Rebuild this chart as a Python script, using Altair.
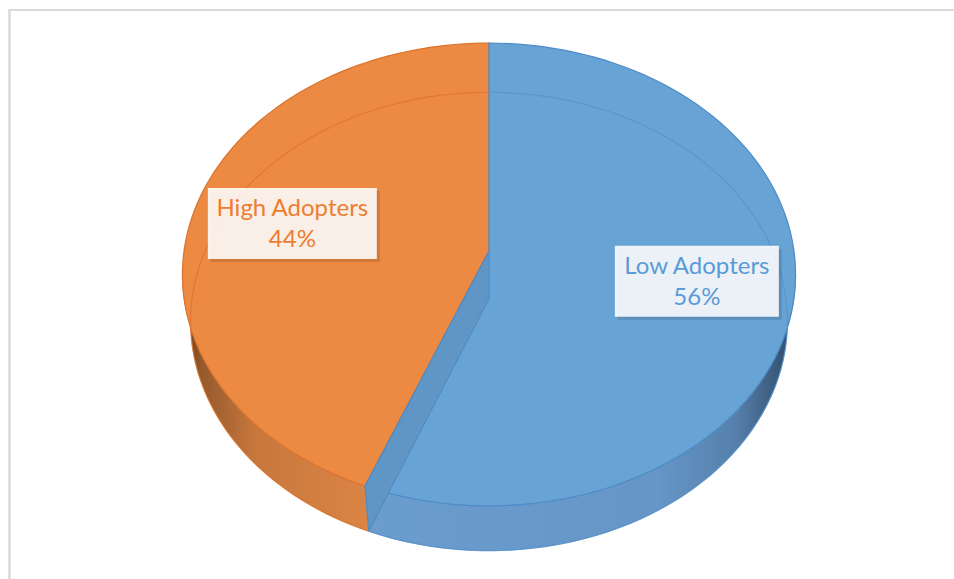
import altair as alt
import pandas as pd

# ---- data ----
categories = ["Low Adopters", "High Adopters"]
values = [56, 44]

# ---- styles ----
slice_fill = {"Low Adopters": "#68A3D5", "High Adopters": "#EC8942"}
slice_edge = {"Low Adopters": "#4D8BC7", "High Adopters": "#DA742F"}
ring_color = {"Low Adopters": "#5590C8", "High Adopters": "#D9732E"}
text_color = {"Low Adopters": "#5B9BD5", "High Adopters": "#ED7D31"}
side_grad = {
    "Low Adopters": [(0, "#6A9CCD"), (0.68, "#6596C7"), (0.86, "#5680AB"), (1, "#2E4966")],
    "High Adopters": [(0, "#5E3A1E"), (0.1, "#94592C"), (0.4, "#C8783D"), (1, "#DB8444")],
}

W, H = 954, 579
N = 90
# projected geometry of the top and bottom faces (perspective ellipse)
TOP = dict(cx=489, cy=251, r=305, h=229, p=0.1015)
BOT = dict(cx=489, cy=299, r=297, h=227, p=0.098)
LABEL_R = 0.675


def px(g, u="datum.u", v="datum.v"):
    return f"({g['cx']} + {g['r']}*({u})/(1 + {g['p']}*({v})))"


def py(g, u="datum.u", v="datum.v"):
    return f"({g['cy']} - {g['h']}*({v})/(1 + {g['p']}*({v})))"


df = pd.DataFrame({"category": categories, "value": values,
                   "idx": list(range(len(categories)))})

xs = alt.Scale(domain=[0, W], range=[0, W], nice=False, zero=False)
ys = alt.Scale(domain=[0, H], range=[0, H], nice=False, zero=False)


def base():
    return (
        alt.Chart(df)
        .transform_joinaggregate(total="sum(value)")
        .transform_window(cum="sum(value)", sort=[alt.SortField("idx", order="ascending")],
                          frame=[None, 0])
        .transform_calculate(a0="2*PI*(datum.cum - datum.value)/datum.total")
        .transform_calculate(a1="2*PI*datum.cum/datum.total")
    )


def enc(chart, xf="X", yf="Y"):
    return chart.encode(
        x=alt.X(f"{xf}:Q", scale=xs, axis=None),
        y=alt.Y(f"{yf}:Q", scale=ys, axis=None),
        order=alt.Order("s:Q"),
    )


layers = []

# border lines (top and left only)
blank = alt.Data(values=[{}])
layers.append(alt.Chart(blank).mark_rule(color="#D9D9D9", strokeWidth=2).encode(
    x=alt.value(8), x2=alt.value(W), y=alt.value(10)))
layers.append(alt.Chart(blank).mark_rule(color="#D9D9D9", strokeWidth=2.5).encode(
    x=alt.value(9.5), y=alt.value(9), y2=alt.value(H)))

VR = f"(PI/2 + asin({TOP['p']}))"
VL = f"(3*PI/2 - asin({TOP['p']}))"

# side walls
for cat in categories:
    grad = alt.Gradient(gradient="linear",
                        stops=[alt.GradientStop(offset=o, color=c) for o, c in side_grad[cat]],
                        x1=0, x2=1, y1=0, y2=0)
    side = (
        base()
        .transform_filter(alt.datum.category == cat)
        .transform_calculate(b0=f"max(datum.a0, {VR})")
        .transform_calculate(b1=f"min(datum.a1, {VL})")
        .transform_filter("datum.b1 > datum.b0")
        .transform_calculate(s=f"sequence(0, {2 * N + 2})")
        .transform_flatten(["s"])
        .transform_calculate(top=f"datum.s <= {N} ? 1 : 0")
        .transform_calculate(
            ang=f"datum.top ? datum.b0 + (datum.b1 - datum.b0)*datum.s/{N} : "
                f"datum.b1 - (datum.b1 - datum.b0)*(datum.s - {N + 1})/{N}")
        .transform_calculate(u="sin(datum.ang)")
        .transform_calculate(v="cos(datum.ang)")
        .transform_calculate(X=f"datum.top ? {px(TOP)} : {px(BOT)}")
        .transform_calculate(Y=f"datum.top ? {py(TOP)} : {py(BOT)}")
        .mark_line(fill=grad, stroke=slice_edge[cat], strokeWidth=1, strokeOpacity=0.6)
    )
    layers.append(enc(side))

# top faces
for cat in reversed(categories):
    top = (
        base()
        .transform_filter(alt.datum.category == cat)
        .transform_calculate(s=f"sequence(0, {N + 3})")
        .transform_flatten(["s"])
        .transform_calculate(rr=f"(datum.s == 0 || datum.s == {N + 2}) ? 0 : 1")
        .transform_calculate(ang=f"datum.a0 + (datum.a1 - datum.a0)*clamp(datum.s - 1, 0, {N})/{N}")
        .transform_calculate(u="datum.rr*sin(datum.ang)")
        .transform_calculate(v="datum.rr*cos(datum.ang)")
        .transform_calculate(X=px(TOP))
        .transform_calculate(Y=py(TOP))
        .mark_line(fill=slice_fill[cat], stroke=slice_edge[cat], strokeWidth=1.2)
    )
    layers.append(enc(top))

# visible cut face at a front boundary
band = (
    base()
    .transform_filter("cos(datum.a1) < 0 && datum.a1 < 2*PI - 0.001")
    .transform_calculate(s="sequence(0, 5)")
    .transform_flatten(["s"])
    .transform_calculate(rr="(datum.s == 1 || datum.s == 2) ? 1 : 0")
    .transform_calculate(top="(datum.s <= 1 || datum.s == 4) ? 1 : 0")
    .transform_calculate(u="datum.rr*sin(datum.a1)")
    .transform_calculate(v="datum.rr*cos(datum.a1)")
    .transform_calculate(X=f"datum.top ? {px(TOP)} : {px(BOT)}")
    .transform_calculate(Y=f"datum.top ? {py(TOP)} : {py(BOT)}")
    .mark_line(fill="#6096C6", stroke="#4D88C2", strokeWidth=1)
)
layers.append(enc(band))

# bottom face outline seen through the translucent top
for cat in categories:
    ring = (
        base()
        .transform_filter(alt.datum.category == cat)
        .transform_calculate(s=f"sequence(0, {N + 1})")
        .transform_flatten(["s"])
        .transform_calculate(ang=f"datum.a0 + (datum.a1 - datum.a0)*datum.s/{N}")
        .transform_calculate(u="sin(datum.ang)")
        .transform_calculate(v="cos(datum.ang)")
        .transform_calculate(X=px(BOT))
        .transform_calculate(Y=py(BOT))
        .mark_line(stroke=ring_color[cat], strokeWidth=1.2, opacity=0.75)
    )
    layers.append(enc(ring))

# data labels
lab = (
    base()
    .transform_calculate(mid="(datum.a0 + datum.a1)/2")
    .transform_calculate(u=f"{LABEL_R}*sin(datum.mid)")
    .transform_calculate(v=f"{LABEL_R}*cos(datum.mid)")
    .transform_calculate(X=px(TOP) + " + 3")
    .transform_calculate(Y=py(TOP) + " + 1")
    .transform_calculate(hw="(5*length(datum.category) + 104)/2")
    .transform_calculate(x0="datum.X - datum.hw", x1="datum.X + datum.hw",
                         y0="datum.Y - 35.5", y1="datum.Y + 35.5")
    .transform_calculate(sx0="datum.x0 + 3", sx1="datum.x1 + 3",
                         sy0="datum.y0 + 3", sy1="datum.y1 + 3")
    .transform_calculate(pct="format(datum.value/datum.total, '.0%')")
)

shadow = lab.mark_rect(fill="#000000", opacity=0.12).encode(
    x=alt.X("sx0:Q", scale=xs, axis=None), x2="sx1:Q",
    y=alt.Y("sy0:Q", scale=ys, axis=None), y2="sy1:Q")
box = lab.mark_rect(fill="#FFFFFF", opacity=0.88).encode(
    x=alt.X("x0:Q", scale=xs, axis=None), x2="x1:Q",
    y=alt.Y("y0:Q", scale=ys, axis=None), y2="y1:Q")
cscale = alt.Scale(domain=categories, range=[text_color[c] for c in categories])
t1 = lab.mark_text(font="Lato", fontSize=24, align="center", baseline="alphabetic", dy=-7.5).encode(
    x=alt.X("X:Q", scale=xs, axis=None), y=alt.Y("Y:Q", scale=ys, axis=None),
    text="category:N", color=alt.Color("category:N", scale=cscale, legend=None))
t2 = lab.mark_text(font="Lato", fontSize=24, align="center", baseline="alphabetic", dy=24).encode(
    x=alt.X("X:Q", scale=xs, axis=None), y=alt.Y("Y:Q", scale=ys, axis=None),
    text="pct:N", color=alt.Color("category:N", scale=cscale, legend=None))
layers += [shadow, box, t1, t2]

chart = (
    alt.layer(*layers)
    .properties(width=W, height=H, autosize=alt.AutoSizeParams(type="none"), padding=0,
                background="#FFFFFF")
    .configure_view(strokeWidth=0)
)

chart.save("out.html", embed_options={"renderer": "svg", "actions": False})
